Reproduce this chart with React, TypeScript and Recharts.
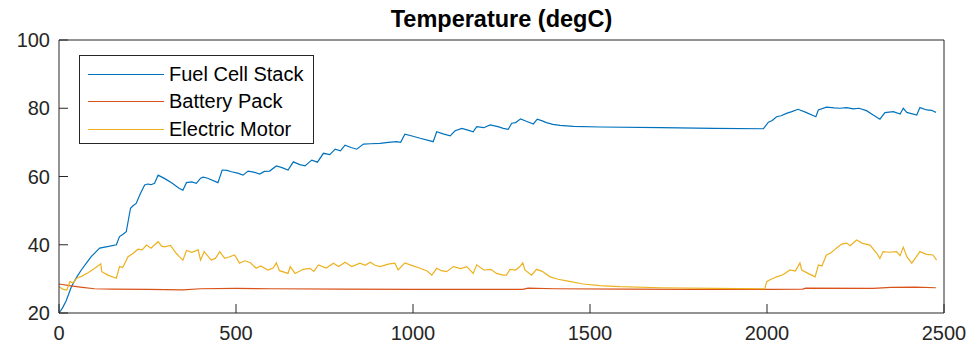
import { Line, LineChart, XAxis, YAxis } from "recharts";

// time (s) / temperature (degC) samples
const fuelT = [0, 10, 20, 35, 50, 63, 80, 91, 105, 115, 140, 162, 171, 180, 190, 202, 210, 218, 230, 242, 250, 260, 270, 280, 300, 320, 340, 350, 360, 375, 388, 400, 407, 420, 449, 461, 475, 487, 505, 520, 534, 550, 567, 580, 595, 614, 630, 647, 662, 680, 695, 714, 730, 747, 765, 780, 795, 808, 825, 841, 860, 880, 907, 930, 954, 965, 977, 1000, 1020, 1057, 1067, 1085, 1105, 1119, 1138, 1155, 1170, 1180, 1200, 1218, 1240, 1255, 1269, 1279, 1290, 1304, 1320, 1340, 1351, 1365, 1377, 1395, 1415, 1453, 1528, 1700, 1850, 1990, 2004, 2015, 2027, 2040, 2055, 2070, 2088, 2110, 2138, 2145, 2168, 2190, 2206, 2225, 2244, 2260, 2281, 2300, 2319, 2333, 2357, 2376, 2385, 2395, 2423, 2432, 2451, 2465, 2477];
const fuelV = [20.0, 21.5, 23.5, 27.7, 30.5, 32.6, 35, 36.5, 38, 39, 39.5, 40, 42.4, 43, 43.8, 50.7, 51.5, 52.1, 55, 57.5, 57.8, 57.6, 58, 60.4, 59.3, 58, 56.5, 56, 58.2, 58.4, 58, 59.5, 59.8, 59.5, 58.2, 61.9, 61.8, 61.4, 61, 60.4, 61.6, 61.3, 60.7, 61.5, 61.6, 63.1, 62.6, 61.9, 64.3, 63.5, 63.1, 64.8, 64.2, 66.8, 66.4, 68, 67.5, 69.2, 68.5, 68, 69.5, 69.6, 69.7, 70, 70.2, 70, 72.4, 71.8, 71.2, 70.2, 73.1, 72.5, 71.9, 73.4, 74.1, 73.6, 73.1, 74.6, 74.3, 75.1, 74.6, 74.1, 73.8, 75.6, 75.8, 76.9, 76.2, 75.4, 76.8, 76.3, 75.8, 75.3, 75, 74.7, 74.5, 74.3, 74.1, 74, 75.9, 76.4, 77.5, 77.8, 78.5, 79, 79.7, 78.8, 77.5, 79.5, 80.3, 80.1, 80, 80.2, 79.8, 80, 79.3, 78, 76.8, 78.7, 79, 78.3, 80, 78.8, 78, 80.2, 79.5, 79.4, 78.8];

const batteryT = [0, 30, 60, 100, 150, 250, 350, 400, 500, 600, 800, 1000, 1200, 1310, 1325, 1400, 1600, 1800, 2000, 2100, 2110, 2300, 2350, 2420, 2477];
const batteryV = [28.5, 28, 27.6, 27.1, 27.0, 26.9, 26.8, 27.1, 27.2, 27.1, 27.0, 26.9, 26.9, 26.9, 27.3, 27.1, 27.0, 26.9, 26.9, 27.0, 27.3, 27.2, 27.5, 27.6, 27.4];

const motorT = [0, 10, 22, 31, 40, 50, 65, 82, 101, 118, 121, 138, 162, 171, 180, 195, 210, 223, 235, 247, 260, 270, 280, 290, 298, 315, 331, 340, 350, 360, 375, 393, 400, 410, 430, 442, 454, 468, 480, 496, 510, 525, 540, 557, 570, 590, 605, 614, 623, 647, 653, 667, 690, 709, 720, 733, 755, 775, 790, 808, 827, 850, 865, 879, 893, 907, 930, 949, 958, 977, 1000, 1020, 1040, 1053, 1067, 1080, 1095, 1114, 1135, 1152, 1170, 1180, 1200, 1220, 1236, 1255, 1264, 1274, 1290, 1302, 1310, 1316, 1335, 1349, 1365, 1387, 1410, 1434, 1481, 1528, 1585, 1700, 1850, 1994, 1999, 2010, 2027, 2045, 2065, 2080, 2093, 2098, 2120, 2136, 2145, 2155, 2168, 2180, 2196, 2211, 2225, 2235, 2253, 2270, 2291, 2310, 2319, 2328, 2345, 2366, 2376, 2385, 2395, 2409, 2420, 2432, 2450, 2469, 2479];
const motorV = [27.8, 27.0, 26.7, 29.2, 28.8, 30.2, 30.8, 31.8, 33.1, 34.4, 32.1, 31.1, 30.2, 33.6, 33.3, 36.5, 37.5, 38.7, 38.5, 39.9, 39, 40, 40.9, 39.6, 39.4, 39.8, 37.5, 36.5, 35.5, 38.3, 37.8, 38.5, 35.5, 38, 35.5, 36, 38, 36, 36.4, 37, 34.6, 35.3, 34.8, 33.1, 33.8, 32.6, 33.2, 34.7, 32.4, 31.6, 33.6, 31.6, 32.8, 33.1, 32.2, 34.1, 33.2, 34.6, 33.6, 34.9, 33.6, 34.6, 34, 34.9, 34, 33.6, 34.3, 34.6, 32.6, 34.7, 33.8, 33.1, 32.3, 31.1, 33.1, 32.4, 32.1, 33.6, 33, 33.6, 31.6, 34.1, 32.6, 32.8, 31.6, 31.1, 31.1, 32.8, 32.6, 33.6, 34.7, 32.6, 31.1, 32.8, 32.2, 30.6, 29.9, 29.4, 28.5, 28, 27.7, 27.4, 27.2, 27.1, 29.2, 29.8, 30.6, 31.2, 32.6, 32.3, 34.7, 32.6, 31.4, 30.6, 34.1, 33.8, 37, 37.6, 39, 40.2, 40.5, 39.7, 41.4, 40.4, 39.9, 37.5, 36, 38, 37.8, 38, 36.8, 39.3, 36.5, 34.6, 36.2, 38, 37.2, 37, 35.5];

const xTicks = [0, 500, 1000, 1500, 2000, 2500];
const yTicks = [20, 40, 60, 80, 100];

const series = [
  { name: "Fuel Cell Stack", color: "#0072BD", t: fuelT, v: fuelV },
  { name: "Battery Pack", color: "#D95319", t: batteryT, v: batteryV },
  { name: "Electric Motor", color: "#EDB120", t: motorT, v: motorV },
];

const FONT = '"Liberation Sans", Arial, Helvetica, sans-serif';
const AXIS = "#262626";
const tickStyle = { fontSize: 20, fill: AXIS, fontFamily: FONT };
const blank = () => "";

export default function App() {
  return (
    <div style={{ position: "absolute", left: 0, top: 0, width: 973, height: 345, background: "#fff", fontFamily: FONT }}>
      <div style={{ position: "absolute", left: 59, width: 885, top: 6, textAlign: "center", fontSize: 23.5, fontWeight: "bold", color: "#000" }}>
        Temperature (degC)
      </div>
      <LineChart width={973} height={345} margin={{ top: 39, right: 28, left: 0, bottom: 0 }}>
        <XAxis xAxisId="b" dataKey="t" type="number" domain={[0, 2500]} ticks={xTicks} tick={tickStyle}
          tickSize={-9} tickMargin={22} height={32} stroke={AXIS} allowDataOverflow />
        <XAxis xAxisId="top" orientation="top" dataKey="t" type="number" domain={[0, 2500]} ticks={xTicks}
          tickFormatter={blank} tickSize={-9} height={1} stroke={AXIS} />
        <YAxis yAxisId="l" type="number" domain={[20, 100]} ticks={yTicks} tick={tickStyle}
          tickSize={-9} tickMargin={18} width={59} stroke={AXIS} />
        <YAxis yAxisId="r" orientation="right" type="number" domain={[20, 100]} ticks={yTicks}
          tickFormatter={blank} tickSize={-9} width={1} stroke={AXIS} />
        {series.map((s) => (
          <Line key={s.name} xAxisId="b" yAxisId="l" name={s.name} type="linear"
            data={s.t.map((t, i) => ({ t, v: s.v[i] }))} dataKey="v" stroke={s.color}
            strokeWidth={1.2} dot={false} isAnimationActive={false} />
        ))}
      </LineChart>
      <div style={{ position: "absolute", left: 79, top: 55, width: 233, height: 87, border: `1px solid ${AXIS}`, background: "#fff", boxSizing: "content-box" }}>
        {series.map((s, i) => (
          <div key={s.name} style={{ position: "absolute", left: 0, top: 4 + i * 27.5, height: 28, display: "flex", alignItems: "center", whiteSpace: "nowrap" }}>
            <span style={{ display: "inline-block", marginLeft: 8, width: 76, height: 0, borderTop: `1.2px solid ${s.color}` }} />
            <span style={{ marginLeft: 5, fontSize: 20, color: "#000" }}>{s.name}</span>
          </div>
        ))}
      </div>
    </div>
  );
}
